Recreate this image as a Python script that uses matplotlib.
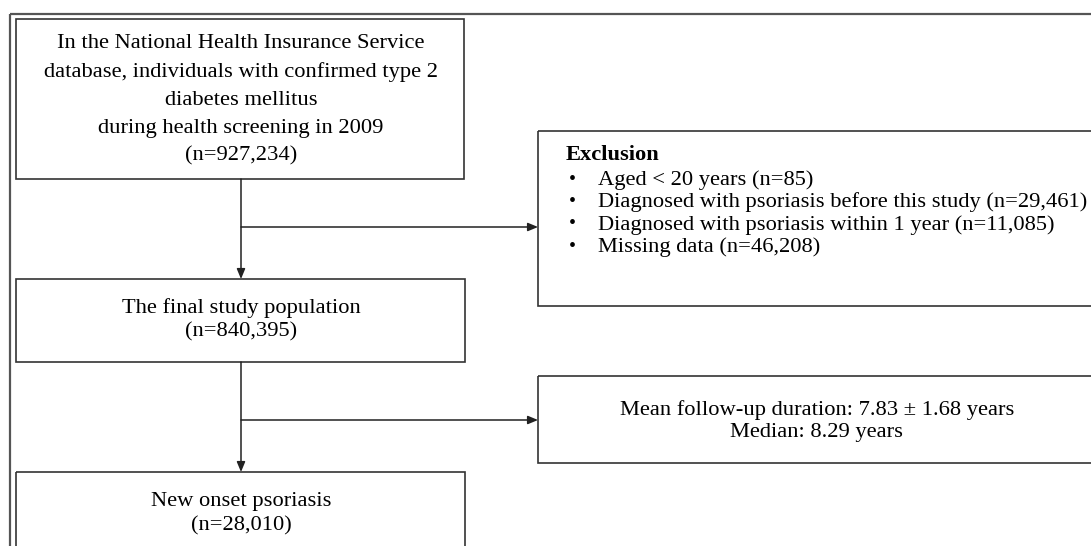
import matplotlib
matplotlib.use('Agg')
import matplotlib.pyplot as plt
from matplotlib.patches import Rectangle

plt.rcParams['font.family'] = ['Liberation Serif', 'DejaVu Serif']

# flowchart content
main_steps = [
    'In the National Health Insurance Service\n'
    'database, individuals with confirmed type 2\n'
    'diabetes mellitus\n'
    'during health screening in 2009',
    'The final study population',
    'New onset psoriasis',
]
main_counts = [927234, 840395, 28010]

exclusion_title = 'Exclusion'
exclusion_items = [
    ('Aged < 20 years', 85),
    ('Diagnosed with psoriasis before this study', 29461),
    ('Diagnosed with psoriasis within 1 year', 11085),
    ('Missing data', 46208),
]
followup_mean = 7.83
followup_sd = 1.68
followup_median = 8.29

W, H = 1091, 546
fig = plt.figure(figsize=(W / 100, H / 100), dpi=100)
ax = fig.add_axes([0, 0, 1, 1])
ax.set_xlim(0, W)
ax.set_ylim(H, 0)
ax.axis('off')

edge = '#333333'
fs = 16.2

# outer frame
ax.add_patch(Rectangle((10, 14), 1100, 600, fill=False, ec='#555555', lw=1.6))

# main column boxes (x0, y0, x1, y1)
main_boxes = [(16, 19, 464, 179), (16, 279, 465, 362), (16, 472, 465, 600)]
for (x0, y0, x1, y1) in main_boxes:
    ax.add_patch(Rectangle((x0, y0), x1 - x0, y1 - y0, fill=False, ec=edge, lw=1.2))

cx = 241
ax.text(cx, 100, main_steps[0] + f'\n(n={main_counts[0]:,})', ha='center', va='center',
        fontsize=fs, linespacing=1.62)
ax.text(cx, 320, main_steps[1] + f'\n(n={main_counts[1]:,})', ha='center', va='center',
        fontsize=fs, linespacing=1.3)
ax.text(cx, 514, main_steps[2] + f'\n(n={main_counts[2]:,})', ha='center', va='center',
        fontsize=fs, linespacing=1.4)

# side boxes
side_boxes = [(538, 131, 1110, 306), (538, 376, 1096, 463)]
for (x0, y0, x1, y1) in side_boxes:
    ax.add_patch(Rectangle((x0, y0), x1 - x0, y1 - y0, fill=False, ec=edge, lw=1.2))

# vertical arrows
arrow_kw = dict(arrowstyle='-|>,head_length=0.6,head_width=0.25', color='#222222', lw=1.1,
                shrinkA=0, shrinkB=0)
ax.annotate('', xy=(cx, 279), xytext=(cx, 179), arrowprops=arrow_kw)
ax.annotate('', xy=(cx, 472), xytext=(cx, 362), arrowprops=arrow_kw)
# horizontal arrows
ax.annotate('', xy=(538, 227), xytext=(cx, 227), arrowprops=arrow_kw)
ax.annotate('', xy=(538, 420), xytext=(cx, 420), arrowprops=arrow_kw)

# exclusion text
ax.text(566, 155, exclusion_title, ha='left', va='center', fontsize=fs, fontweight='bold')
for i, (label, n) in enumerate(exclusion_items):
    y = 180 + i * 22.5
    ax.text(572, y, '\u2022', ha='center', va='center', fontsize=fs - 2)
    ax.text(598, y, f'{label} (n={n:,})', ha='left', va='center', fontsize=fs)

# follow-up text
ax.text(817, 421, f'Mean follow-up duration: {followup_mean:.2f} \u00b1 {followup_sd:.2f} years\n'
        f'Median: {followup_median:.2f} years', ha='center', va='center', fontsize=fs,
        linespacing=1.22)

fig.savefig('out.png', dpi=100)
